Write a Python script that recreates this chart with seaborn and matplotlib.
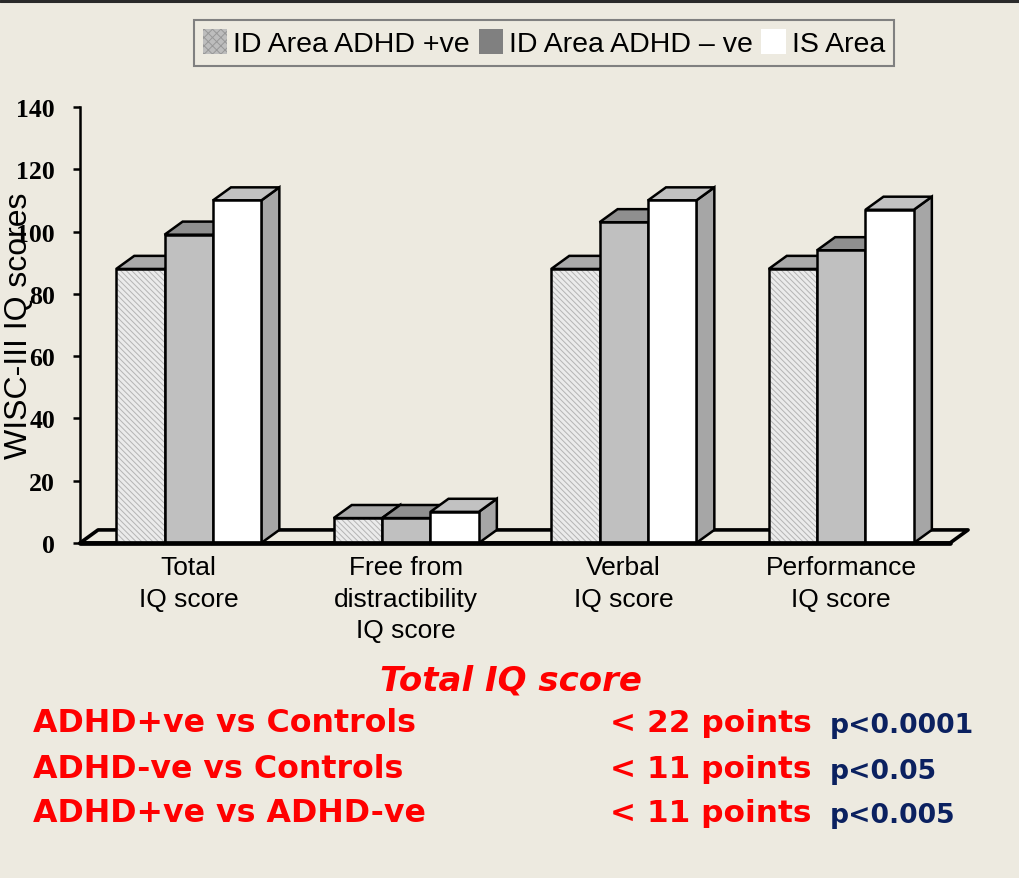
import matplotlib
matplotlib.use("Agg")
import matplotlib.pyplot as plt
from matplotlib.patches import Polygon, Patch, Rectangle
from matplotlib.lines import Line2D
import seaborn as sns
import pandas as pd

# ---- data -------------------------------------------------------------
categories = ["Total\nIQ score", "Free from\ndistractibility\nIQ score",
              "Verbal\nIQ score", "Performance\nIQ score"]
groups = ["ID Area ADHD +ve", "ID Area ADHD \u2013 ve", "IS Area"]
adhd_pos = [88, 8, 88, 88]
adhd_neg = [99, 8, 103, 94]
is_area = [110, 10, 110, 107]
y_ticks = [0, 20, 40, 60, 80, 100, 120, 140]

summary_title = "Total IQ score"
comparisons = ["ADHD+ve vs Controls", "ADHD-ve vs Controls", "ADHD+ve vs ADHD-ve"]
differences = ["< 22 points", "< 11 points", "< 11 points"]
p_values = ["p<0.0001", "p<0.05", "p<0.005"]

# ---- style ------------------------------------------------------------
bg = "#EDEAE0"
front_colors = ["#EBEBEB", "#C0C0C0", "#FFFFFF"]
top_colors = ["#A9A9A9", "#8F8F8F", "#C2C2C2"]
side_colors = ["#9A9A9A", "#808080", "#A6A6A6"]
red = "#FF0000"
navy = "#0B2160"

sns.set_theme(style="white")
plt.rcParams["font.family"] = ["Liberation Sans", "DejaVu Sans"]
plt.rcParams["hatch.linewidth"] = 0.7
for key in ["text.color", "axes.labelcolor", "xtick.color", "ytick.color"]:
    plt.rcParams[key] = "black"

df = pd.DataFrame({
    "category": categories * 3,
    "group": [g for g in groups for _ in categories],
    "score": adhd_pos + adhd_neg + is_area,
})

W, H = 1019, 879
fig = plt.figure(figsize=(W / 100, H / 100), dpi=100, facecolor=bg)
ax = fig.add_axes([80 / W, 335 / H, 870 / W, 436 / H])
ax.set_facecolor(bg)
ax.patch.set_alpha(0)

sns.barplot(data=df, x="category", y="score", hue="group",
            order=categories, hue_order=groups, palette=front_colors,
            width=0.667, saturation=1, edgecolor="black", linewidth=1.8,
            legend=False, ax=ax)

ax.set_xlim(-0.5, 3.5)
ax.set_ylim(0, 140)

# 3-D depth offsets in data units
dx, dy = 0.083, 4.2

for j, cont in enumerate(ax.containers):
    for rect in cont.patches:
        x0, w, h = rect.get_x(), rect.get_width(), rect.get_height()
        x1 = x0 + w
        rect.set_zorder(3 + 2 * j)
        top = Polygon([(x0, h), (x1, h), (x1 + dx, h + dy), (x0 + dx, h + dy)],
                      closed=True, facecolor=top_colors[j], edgecolor="black",
                      linewidth=1.8, zorder=2 + 2 * j, clip_on=False)
        side = Polygon([(x1, 0), (x1 + dx, dy), (x1 + dx, h + dy), (x1, h)],
                       closed=True, facecolor=side_colors[j], edgecolor="black",
                       linewidth=1.8, zorder=2 + 2 * j, clip_on=False)
        ax.add_patch(side)
        ax.add_patch(top)
        if j == 0:
            # fine diagonal texture on the front face
            rect.set_linewidth(0)
            rect.set_edgecolor("#B4B4B4")
            rect.set_hatch("\\\\\\\\\\\\")
            ax.add_patch(Rectangle((x0, 0), w, h, fill=False, edgecolor="black",
                                   linewidth=1.8, zorder=3.5, clip_on=False))

# floor slab
x_lo, x_hi = -0.5, 3.5
floor = Polygon([(x_lo, 0), (x_hi, 0), (x_hi + dx, dy), (x_lo + dx, dy)],
                closed=True, facecolor=bg, edgecolor="black", linewidth=2.6,
                joinstyle="round", zorder=1, clip_on=False)
ax.add_patch(floor)
ax.plot([x_lo, x_hi], [0, 0], color="black", linewidth=3.4,
        solid_capstyle="round", zorder=12, clip_on=False)

# axes styling
for s in ["top", "right", "bottom"]:
    ax.spines[s].set_visible(False)
ax.spines["left"].set_linewidth(1.8)
ax.spines["left"].set_color("black")
ax.set_yticks(y_ticks)
ax.set_yticklabels([str(t) for t in y_ticks], fontfamily="Liberation Serif",
                   fontweight="bold", fontsize=18.5, color="black")
ax.tick_params(axis="y", direction="out", length=5, width=1.8, color="black",
               pad=13, left=True)
ax.tick_params(axis="x", length=0, pad=9, labelsize=19, labelcolor="black")
for lbl in ax.get_xticklabels():
    lbl.set_linespacing(1.38)
ax.set_xlabel("")
ax.set_ylabel("WISC-III IQ scores", fontsize=23, color="black", va="center")
ax.yaxis.set_label_coords(-0.07, 0.5)
ax.grid(False)

# legend
handles = [
    Patch(facecolor="#BDBDBD", edgecolor="#989898", hatch="xxxx", linewidth=0),
    Patch(facecolor="#808080", linewidth=0),
    Patch(facecolor="#FFFFFF", linewidth=0),
]
leg = fig.legend(handles, groups, loc="center", bbox_to_anchor=(544 / W, 1 - 44 / H),
                 ncol=3, frameon=True, fancybox=False, edgecolor="#808080",
                 facecolor=bg, framealpha=1, fontsize=20.5, handlelength=0.85,
                 handleheight=0.95, handletextpad=0.22, columnspacing=0.3,
                 borderpad=0.3, borderaxespad=0, labelcolor="black")
leg.get_frame().set_linewidth(1.5)

# top border line
fig.add_artist(Line2D([0, 1], [1 - 1.5 / H, 1 - 1.5 / H], color="#2A2A2A",
                      linewidth=2.2, transform=fig.transFigure))

# summary text
fig.text(511 / W, 1 - 681 / H, summary_title, color=red, fontsize=24.5,
         fontweight="bold", fontstyle="italic", family="DejaVu Sans",
         ha="center", va="center")
row_y = [724, 770, 814]
for yy, comp, diff, p in zip(row_y, comparisons, differences, p_values):
    fig.text(33 / W, 1 - yy / H, comp, color=red, fontsize=22.8,
             fontweight="bold", family="DejaVu Sans", ha="left", va="center")
    fig.text(610 / W, 1 - yy / H, diff, color=red, fontsize=22.5,
             fontweight="bold", family="DejaVu Sans", ha="left", va="center")
    fig.text(830 / W, 1 - (yy + 2) / H, p, color=navy, fontsize=19.2,
             fontweight="bold", family="DejaVu Sans", ha="left", va="center")

fig.savefig("out.png", dpi=100, facecolor=bg)
